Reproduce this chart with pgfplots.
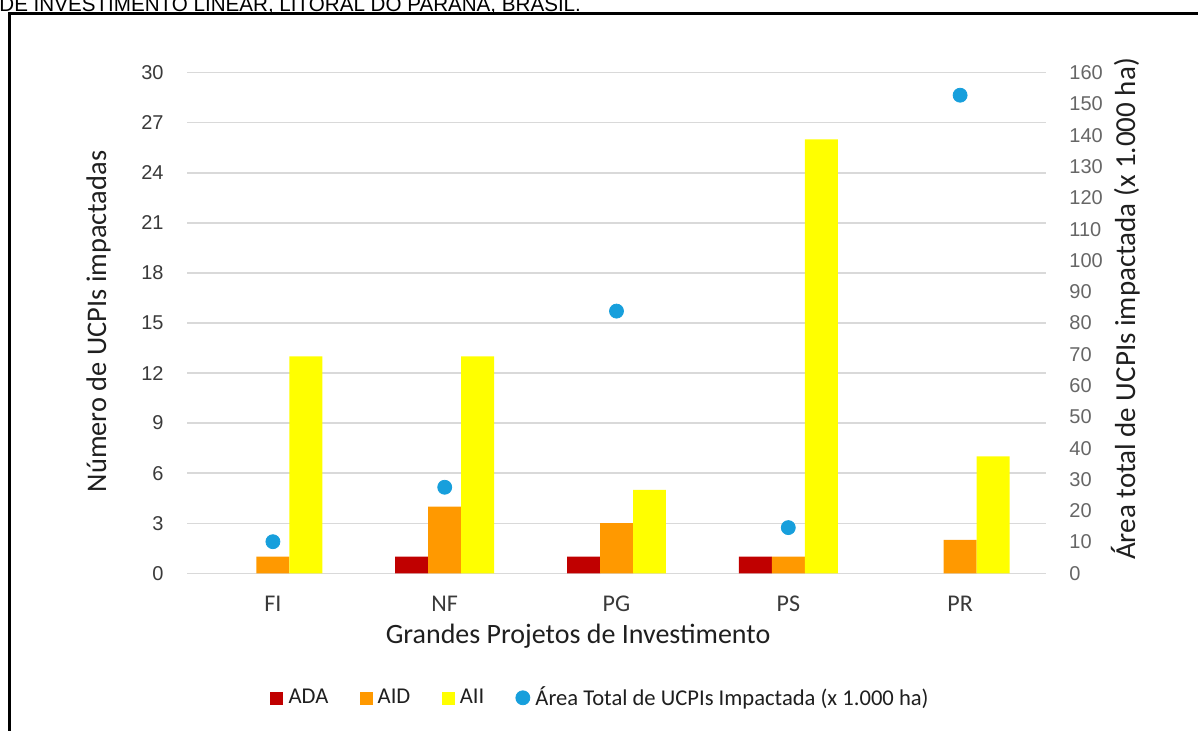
\documentclass[border=0pt]{standalone}
\usepackage{pgfplots}
\pgfplotsset{compat=1.18}
\usepackage{pgfplotstable}
\usepackage{fontspec}
\setmainfont{Liberation Sans}
\newfontfamily\carlito{Carlito}

\definecolor{cADA}{HTML}{C00000}
\definecolor{cAID}{HTML}{FF9900}
\definecolor{cAII}{HTML}{FFFF00}
\definecolor{cArea}{HTML}{179FDC}
\definecolor{gridgray}{HTML}{D9D9D9}
\definecolor{ltick}{HTML}{3A3A3A}
\definecolor{rtick}{HTML}{666666}
\definecolor{titlecol}{HTML}{1F1F1F}

% Number of protected areas (UCPIs) hit by each project, per influence zone
\pgfplotstableread{
idx ADA AID AII
0 0 1 13
1 1 4 13
2 1 3 5
3 1 1 26
4 0 2 7
}\ucpis

% Total impacted area (x 1,000 ha)
\pgfplotstableread{
idx area
0 10.1
1 27.5
2 83.8
3 14.6
4 152.8
}\areatotal

\pgfplotsset{
  frameaxis/.style={
    scale only axis, width=429.5pt, height=250.3pt,
    at={(93.5pt,78.85pt)}, anchor=south west,
    xmin=-0.5, xmax=4.5, ymin=0,
    axis line style={draw=none},
    major tick length=0pt,
    tick style={draw=none},
    /pgf/number format/assume math mode=true,
  },
}

\begin{document}
\begin{tikzpicture}
\begin{scope}[x=0.5pt,y=0.5pt]
  \useasboundingbox (0,0) rectangle (1198,731);
  \clip (0,0) rectangle (1198,731);
  \node[anchor=base west, inner sep=0pt, font=\fontsize{10.3}{12}\selectfont]
    at (-1,719.8) {DE INVESTIMENTO LINEAR, LITORAL DO PARANÁ, BRASIL.};
  \draw[line width=1.25pt] (9.5,-20) rectangle (1230,717.5);
\end{scope}

% Left axis: counts as clustered bars (empty zones are left out)
\begin{axis}[frameaxis,
  ymax=30, ytick={0,3,...,30},
  xtick={0,1,2,3,4}, xticklabels={FI,NF,PG,PS,PR},
  ymajorgrids, grid style={gridgray, line width=0.7pt},
  unbounded coords=discard,
  yticklabel style={anchor=east, inner sep=0pt, xshift=-11.5pt,
    font=\fontsize{10}{12}\selectfont, text=ltick},
  xticklabel style={anchor=base, inner sep=0pt, yshift=-19.1pt,
    font=\carlito\fontsize{12}{14}\selectfont, text=ltick},
  ylabel={Número de UCPIs impactadas},
  ylabel style={at={(axis description cs:-0.0943,0.503)}, anchor=base,
    inner sep=0pt, font=\carlito\fontsize{14.2}{16}\selectfont, text=titlecol},
  xlabel={Grandes Projetos de Investimento},
  xlabel style={at={(axis description cs:0.4552,-0.1398)}, anchor=base,
    inner sep=0pt, font=\carlito\fontsize{14}{16}\selectfont, text=titlecol},
  legend columns=4,
  legend style={at={(axis description cs:0.0966,-0.2491)}, anchor=west,
    draw=none, fill=none, inner sep=0pt,
    font=\carlito\fontsize{11.3}{13}\selectfont, text=titlecol,
    nodes={inner sep=0pt},
    /tikz/every even column/.append style={column sep=15.6pt},
    /tikz/every odd column/.append style={column sep=2.6pt}},
]
\addplot[ybar, bar width=0.192, bar shift=-0.192, fill=cADA, draw=none,
  y filter/.expression={y==0 ? nan : y},
  legend image code/.code={\fill[cADA] (0pt,-3.5pt) rectangle (6.5pt,3pt);}]
  table[x=idx, y=ADA] {\ucpis};
\addlegendentry{ADA}
\addplot[ybar, bar width=0.192, bar shift=0, fill=cAID, draw=none,
  y filter/.expression={y==0 ? nan : y},
  legend image code/.code={\fill[cAID] (0pt,-3.5pt) rectangle (6.5pt,3pt);}]
  table[x=idx, y=AID] {\ucpis};
\addlegendentry{AID}
\addplot[ybar, bar width=0.192, bar shift=0.192, fill=cAII, draw=none,
  y filter/.expression={y==0 ? nan : y},
  legend image code/.code={\fill[cAII] (0pt,-3.5pt) rectangle (6.5pt,3pt);}]
  table[x=idx, y=AII] {\ucpis};
\addlegendentry{AII}
\addlegendimage{legend image code/.code={\fill[cArea] (3.5pt,0.1pt) circle (3.5pt);}}
\addlegendentry{Área Total de UCPIs Impactada (x 1.000 ha)}
\end{axis}

% Right axis: total impacted area as dots
\begin{axis}[frameaxis,
  ymax=160, ytick={0,10,...,160},
  axis x line=none, axis y line*=right,
  xtick=\empty,
  yticklabel style={anchor=west, inner sep=0pt, xshift=11.5pt,
    font=\fontsize{10}{12}\selectfont, text=rtick},
  ylabel={Área total de UCPIs impactada (x 1.000 ha)},
  ylabel style={at={(axis description cs:1.1036,0.528)}, anchor=base, rotate=0,
    inner sep=0pt, font=\carlito\fontsize{14.5}{16}\selectfont, text=titlecol},
]
\addplot[only marks, mark=*, mark size=3.5pt, color=cArea,
  mark options={fill=cArea, draw=cArea}]
  table[x=idx, y=area] {\areatotal};
\end{axis}
\end{tikzpicture}
\end{document}
